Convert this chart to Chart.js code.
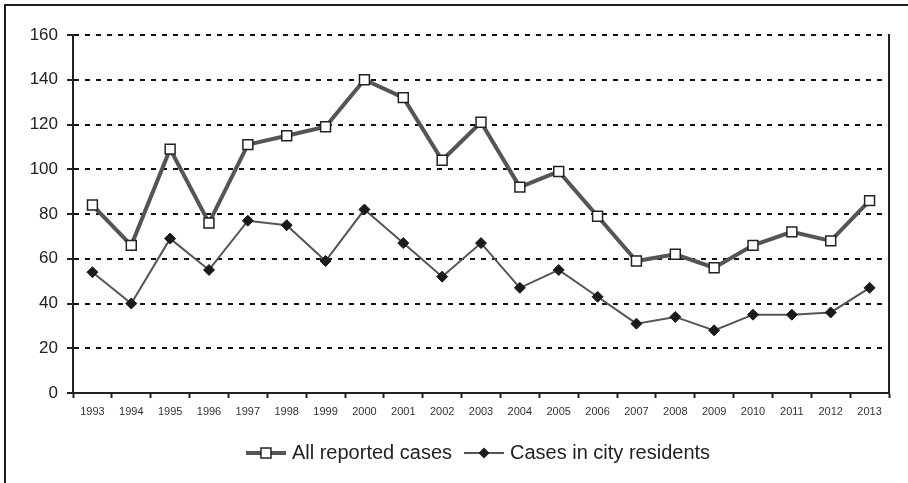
<!DOCTYPE html>
<html>
  <head>
    <title>Reported cases 1993-2013</title>
    <script src="https://cdn.jsdelivr.net/npm/chart.js"></script>
    <style>
      body {
        margin: 0;
        overflow: hidden;
        background: #fff;
      }

      #wrap {
        position: relative;
        width: 908px;
        height: 483px;
      }

      #frame {
        position: absolute;
        left: 4px;
        top: 4px;
        width: 1000px;
        height: 1000px;
        border-left: 2px solid #1e1e1e;
        border-top: 2px solid #1e1e1e;
        pointer-events: none;
      }
    </style>
  </head>
  <body>
    <div id="wrap">
      <canvas id="casesChart" width="908" height="483"></canvas>
      <div id="frame"></div>
    </div>

    <script>
      const years = [
        '1993', '1994', '1995', '1996', '1997', '1998', '1999', '2000', '2001', '2002', '2003',
        '2004', '2005', '2006', '2007', '2008', '2009', '2010', '2011', '2012', '2013',
      ];
      const allReported = [84, 66, 109, 76, 111, 115, 119, 140, 132, 104, 121, 92, 99, 79, 59, 62, 56, 66, 72, 68, 86];
      const cityResidents = [54, 40, 69, 55, 77, 75, 59, 82, 67, 52, 67, 47, 55, 43, 31, 34, 28, 35, 35, 36, 47];
      const seriesNames = ['All reported cases', 'Cases in city residents'];
      const yMin = 0;
      const yMax = 160;
      const yStep = 20;

      // legend symbols: line with marker in the middle
      function legendSymbol(kind) {
        const c = document.createElement('canvas');
        c.width = 40;
        c.height = 14;
        const g = c.getContext('2d');
        g.strokeStyle = '#555';
        g.lineWidth = kind === 'square' ? 4 : 2;
        g.beginPath();
        g.moveTo(0, 7);
        g.lineTo(40, 7);
        g.stroke();
        if (kind === 'square') {
          g.fillStyle = '#fff';
          g.strokeStyle = '#222';
          g.lineWidth = 1.5;
          g.fillRect(15, 2, 10, 10);
          g.strokeRect(15, 2, 10, 10);
        } else {
          g.fillStyle = '#1a1a1a';
          g.beginPath();
          g.moveTo(20, 1.5);
          g.lineTo(25.5, 7);
          g.lineTo(20, 12.5);
          g.lineTo(14.5, 7);
          g.closePath();
          g.fill();
        }
        return c;
      }
      const symbols = [legendSymbol('square'), legendSymbol('diamond')];

      // the legend sits a bit right of the page centre in the original
      const shiftLegend = {
        id: 'shiftLegend',
        afterLayout(chart) {
          chart.legend.left = 52;
        },
      };

      const ctx = document.getElementById('casesChart').getContext('2d');
      const chart = new Chart(ctx, {
        type: 'line',
        data: {
          labels: years,
          datasets: [
            {
              label: seriesNames[0],
              data: allReported,
              borderColor: '#555',
              borderWidth: 4,
              pointStyle: 'rect',
              pointRadius: 7,
              pointBackgroundColor: '#fff',
              pointBorderColor: '#222',
              pointBorderWidth: 1.5,
              tension: 0,
            },
            {
              label: seriesNames[1],
              data: cityResidents,
              borderColor: '#555',
              borderWidth: 2,
              pointStyle: 'rectRot',
              pointRadius: 5.5,
              pointBackgroundColor: '#1a1a1a',
              pointBorderColor: '#1a1a1a',
              pointBorderWidth: 1,
              tension: 0,
            },
          ],
        },
        plugins: [shiftLegend],
        options: {
          responsive: false,
          animation: false,
          layout: {
            padding: { left: 0, right: 0, top: 35, bottom: 10 },
          },
          plugins: {
            tooltip: { enabled: false },
            legend: {
              position: 'bottom',
              labels: {
                usePointStyle: true,
                pointStyleWidth: 32,
                padding: 16,
                color: '#222',
                font: { family: 'Liberation Sans, Arial, sans-serif', size: 20 },
                generateLabels: (c) => {
                  const items = Chart.defaults.plugins.legend.labels.generateLabels(c);
                  items.forEach((item, i) => {
                    item.pointStyle = symbols[i];
                  });
                  return items;
                },
              },
            },
          },
          scales: {
            x: {
              offset: true,
              grid: {
                offset: true,
                drawOnChartArea: false,
                drawTicks: true,
                tickLength: 5,
                tickColor: '#222',
                tickWidth: 2,
              },
              border: { color: '#222', width: 2 },
              ticks: {
                color: '#333',
                padding: 7,
                maxRotation: 0,
                autoSkip: false,
                font: { family: 'Liberation Sans, Arial, sans-serif', size: 11 },
              },
              afterFit: (scale) => {
                scale.height = 34;
              },
            },
            y: {
              min: yMin,
              max: yMax,
              grid: {
                color: '#111',
                lineWidth: 2,
                tickLength: 6,
                tickColor: '#222',
                tickWidth: 2,
                tickBorderDash: [],
              },
              border: { color: '#222', width: 2, dash: [5, 6] },
              ticks: {
                stepSize: yStep,
                color: '#222',
                padding: 9,
                font: { family: 'Liberation Sans, Arial, sans-serif', size: 17 },
              },
              afterFit: (scale) => {
                scale.width = 73;
              },
            },
            yRight: {
              position: 'right',
              min: yMin,
              max: yMax,
              grid: { drawOnChartArea: false, drawTicks: false },
              border: { color: '#222', width: 2 },
              ticks: { display: false },
              afterFit: (scale) => {
                scale.width = 19;
              },
            },
          },
        },
      });
    </script>
  </body>
</html>
